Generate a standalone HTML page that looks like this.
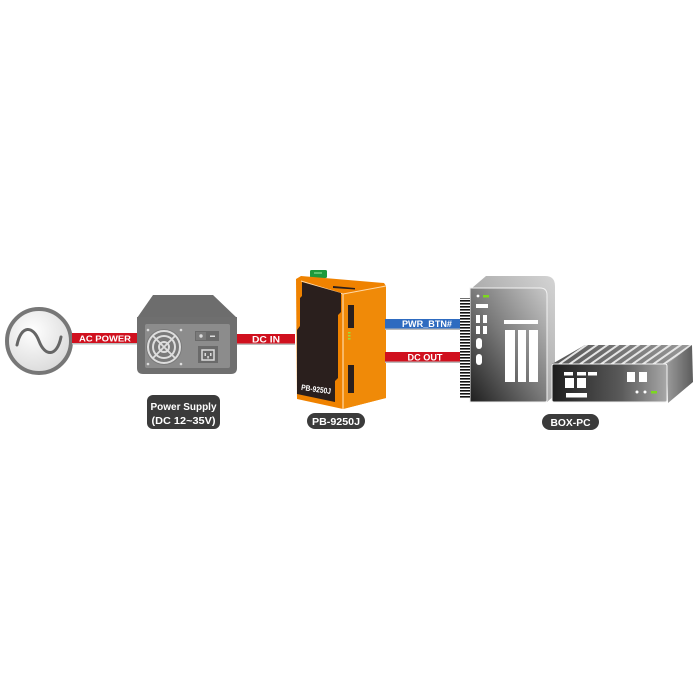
<!DOCTYPE html>
<html><head><meta charset="utf-8"><style>
html,body{margin:0;padding:0;background:#fff;}
svg{display:block;}
text{font-family:"Liberation Sans",sans-serif;font-weight:bold;}
</style></head><body>
<svg width="700" height="700" viewBox="0 0 700 700" xmlns="http://www.w3.org/2000/svg">
<defs>
<radialGradient id="cg" cx="0.4" cy="0.35" r="0.7"><stop offset="0" stop-color="#ffffff"/><stop offset="1" stop-color="#d9d9d9"/></radialGradient>
<linearGradient id="tw" x1="1" y1="0" x2="0" y2="1"><stop offset="0" stop-color="#c8c8c8"/><stop offset="0.5" stop-color="#7a7a7a"/><stop offset="1" stop-color="#1e1e1e"/></linearGradient>
<linearGradient id="twb" x1="1" y1="0" x2="0" y2="1"><stop offset="0" stop-color="#d4d4d4"/><stop offset="1" stop-color="#8a8a8a"/></linearGradient>
<linearGradient id="bf" x1="0" y1="0" x2="1" y2="0"><stop offset="0" stop-color="#1e1e1e"/><stop offset="0.6" stop-color="#5a5a5a"/><stop offset="1" stop-color="#a8a8a8"/></linearGradient>
<linearGradient id="bs" x1="0" y1="0" x2="1" y2="0"><stop offset="0" stop-color="#9a9a9a"/><stop offset="1" stop-color="#5c5c5c"/></linearGradient>
<linearGradient id="bt" x1="0" y1="0" x2="1" y2="0"><stop offset="0" stop-color="#555"/><stop offset="1" stop-color="#9a9a9a"/></linearGradient>
<pattern id="stripes" width="6" height="6" patternUnits="userSpaceOnUse" patternTransform="rotate(-35)"><rect width="6" height="6" fill="none"/><rect width="6" height="2" fill="#e6e6e6"/></pattern>
<pattern id="fins" width="10" height="3" patternUnits="userSpaceOnUse"><rect width="10" height="3" fill="#fff"/><rect width="10" height="1.6" fill="#111"/></pattern>
</defs>

<!-- AC source -->
<circle cx="39" cy="341" r="32" fill="url(#cg)" stroke="#777" stroke-width="4"/>
<path d="M17,345 C21,325 33,325 39,341 C45,357 57,357 61,337" fill="none" stroke="#666" stroke-width="3" stroke-linecap="round"/>

<!-- AC POWER bar -->
<rect x="72" y="333" width="66" height="10" fill="#d0101e"/>
<rect x="72" y="343" width="66" height="1.5" fill="#bbb"/>
<text x="105" y="341.5" font-size="8.5" fill="#fff" text-anchor="middle" textLength="52" lengthAdjust="spacingAndGlyphs">AC POWER</text>

<!-- Power supply -->
<polygon points="153,295 213,295 237,318 137,318" fill="#6d6d6d"/>
<path d="M137,317 H237 V368 Q237,374 231,374 H143 Q137,374 137,368 Z" fill="#6f6f6f"/>
<rect x="145" y="324" width="85" height="44" rx="2" fill="#8c8c8c"/>
<circle cx="164" cy="347" r="18" fill="#7a7a7a"/>
<circle cx="164" cy="347" r="16" fill="none" stroke="#ddd" stroke-width="2"/>
<circle cx="164" cy="347" r="11" fill="none" stroke="#ddd" stroke-width="2"/>
<circle cx="164" cy="347" r="5" fill="none" stroke="#ddd" stroke-width="2"/>
<path d="M153,336 L175,358 M175,336 L153,358" stroke="#ddd" stroke-width="1.8"/>
<circle cx="148" cy="330" r="1.3" fill="#ddd"/><circle cx="181" cy="330" r="1.3" fill="#ddd"/>
<circle cx="148" cy="364" r="1.3" fill="#ddd"/><circle cx="181" cy="364" r="1.3" fill="#ddd"/>
<rect x="195" y="331" width="24" height="10" fill="#6a6a6a"/>
<rect x="196" y="332" width="10" height="8" fill="#7a7a7a"/>
<circle cx="201" cy="336" r="1.7" fill="#ddd"/>
<rect x="210" y="335.5" width="5" height="1.5" fill="#ddd"/>
<rect x="198" y="346" width="20" height="17" fill="#6a6a6a"/>
<path d="M202,350 H214 V360 H202 Z" fill="none" stroke="#ddd" stroke-width="1.5"/>
<rect x="204.5" y="353" width="1.5" height="3" fill="#ddd"/><rect x="210" y="353" width="1.5" height="3" fill="#ddd"/><rect x="207.3" y="356" width="1.5" height="2.5" fill="#ddd"/>

<!-- DC IN bar -->
<rect x="237" y="334" width="58" height="9.5" fill="#d0101e"/>
<rect x="237" y="343.5" width="58" height="1.5" fill="#bbb"/>
<text x="266" y="342.3" font-size="9" fill="#fff" text-anchor="middle" textLength="28" lengthAdjust="spacingAndGlyphs">DC IN</text>

<!-- Power Supply label -->
<rect x="147" y="395" width="73" height="34" rx="6" fill="#3b3b3b"/>
<text x="183.5" y="410" font-size="10.5" fill="#fff" text-anchor="middle" textLength="66" lengthAdjust="spacingAndGlyphs">Power Supply</text>
<text x="183.5" y="424" font-size="10.5" fill="#fff" text-anchor="middle" textLength="64" lengthAdjust="spacingAndGlyphs">(DC 12~35V)</text>

<!-- PB-9250J device -->
<rect x="310" y="270" width="17" height="8" rx="1.5" fill="#1e9a3c"/>
<rect x="314" y="272" width="8" height="2" fill="#5cc46e"/>
<polygon points="296,279 301,276 384,283 386,286 386,398 343,409 297,399" fill="#ef8200"/>
<polygon points="343,294 386,286 386,398 343,409" fill="#f08a08"/>
<line x1="343" y1="294" x2="343" y2="409" stroke="#ffd9a8" stroke-width="1.2"/>
<line x1="301" y1="281" x2="343" y2="294" stroke="#ffd9a8" stroke-width="1"/>
<line x1="343" y1="294" x2="386" y2="286" stroke="#ffd9a8" stroke-width="1"/>
<polygon points="333,286 355,288 355,289.5 333,288" fill="#2a1f1d"/>
<polygon points="302,282 341,293 341,312 338,315 338,378 335,381 335,402 297,394 297,330 300,326 300,298 302,296" fill="#2a1f1d"/>
<text x="316" y="392" font-size="8" fill="#fff" text-anchor="middle" transform="rotate(8 316 390)" textLength="30" lengthAdjust="spacingAndGlyphs">PB-9250J</text>
<rect x="348" y="305" width="6" height="23" fill="#2a1f1d"/>
<rect x="348" y="365" width="6" height="28" fill="#2a1f1d"/>
<rect x="348" y="332" width="2.5" height="1.5" fill="#9be03a"/>
<rect x="348" y="335" width="2.5" height="1.5" fill="#9be03a"/>
<rect x="348" y="338" width="2.5" height="1.5" fill="#9be03a"/>

<!-- PB-9250J label -->
<rect x="307" y="413" width="58" height="16" rx="8" fill="#3b3b3b"/>
<text x="336" y="425" font-size="10.5" fill="#fff" text-anchor="middle" textLength="48" lengthAdjust="spacingAndGlyphs">PB-9250J</text>

<!-- PWR_BTN# bar -->
<rect x="385" y="319" width="78" height="9.5" fill="#2e6bc0"/>
<rect x="385" y="328.5" width="78" height="1.5" fill="#bbb"/>
<text x="427" y="327" font-size="9" fill="#fff" text-anchor="middle" textLength="50" lengthAdjust="spacingAndGlyphs">PWR_BTN#</text>

<!-- DC OUT bar -->
<rect x="385" y="352" width="78" height="9.5" fill="#d0101e"/>
<rect x="385" y="361.5" width="78" height="1.5" fill="#bbb"/>
<text x="425" y="360.3" font-size="9" fill="#fff" text-anchor="middle" textLength="35" lengthAdjust="spacingAndGlyphs">DC OUT</text>

<!-- Tower PC -->
<path d="M472,288 L486,276 H545 Q555,276 555,286 V395 L547,402 H472 Z" fill="url(#twb)"/>
<path d="M470,288 H540 Q547,288 547,295 V400 Q547,402 545,402 H470 Z" fill="url(#tw)" stroke="#f2f2f2" stroke-width="1"/>
<rect x="460" y="298" width="10" height="100" fill="url(#fins)"/>
<circle cx="478" cy="296" r="1.4" fill="#fff"/>
<rect x="483" y="295" width="6" height="2.5" fill="#7cd81e"/>
<rect x="476" y="304" width="12" height="4" fill="#fff"/>
<rect x="476" y="315" width="4" height="8" fill="#fff"/><rect x="483" y="315" width="4" height="8" fill="#fff"/>
<rect x="476" y="326" width="4" height="8" fill="#fff"/><rect x="483" y="326" width="4" height="8" fill="#fff"/>
<rect x="476" y="338" width="6" height="11" rx="3" fill="#fff"/>
<rect x="476" y="354" width="6" height="11" rx="3" fill="#fff"/>
<rect x="504" y="320" width="34" height="4" fill="#fff"/>
<rect x="505" y="330" width="10" height="52" fill="#fff"/>
<rect x="518" y="330" width="8" height="52" fill="#fff"/>
<rect x="529" y="330" width="9" height="52" fill="#fff"/>

<!-- Flat Box PC -->
<polygon points="552,364 585,345 692,345 667,364" fill="url(#bt)"/>
<polygon points="552,364 585,345 692,345 667,364" fill="url(#stripes)"/>
<polygon points="667,364 692,345 693,382 668,403" fill="url(#bs)"/>
<rect x="552" y="364" width="115" height="38" rx="2" fill="url(#bf)" stroke="#f2f2f2" stroke-width="1"/>
<rect x="564" y="372" width="9" height="3.5" fill="#fff"/>
<rect x="577" y="372" width="9" height="3.5" fill="#fff"/>
<rect x="588" y="372" width="9" height="3.5" fill="#fff"/>
<rect x="565" y="378" width="9" height="10" fill="#fff"/>
<rect x="577" y="378" width="9" height="10" fill="#fff"/>
<rect x="566" y="393" width="21" height="4.5" fill="#fff"/>
<rect x="627" y="372" width="8" height="10" fill="#fff"/>
<rect x="639" y="372" width="8" height="10" fill="#fff"/>
<circle cx="637" cy="392" r="1.5" fill="#fff"/>
<circle cx="645" cy="392" r="1.5" fill="#fff"/>
<rect x="651" y="391" width="6" height="2.5" fill="#7cd81e"/>

<!-- BOX-PC label -->
<rect x="542" y="414" width="57" height="16" rx="8" fill="#3b3b3b"/>
<text x="570.5" y="426" font-size="10.5" fill="#fff" text-anchor="middle" textLength="40" lengthAdjust="spacingAndGlyphs">BOX-PC</text>
</svg>
</body></html>
